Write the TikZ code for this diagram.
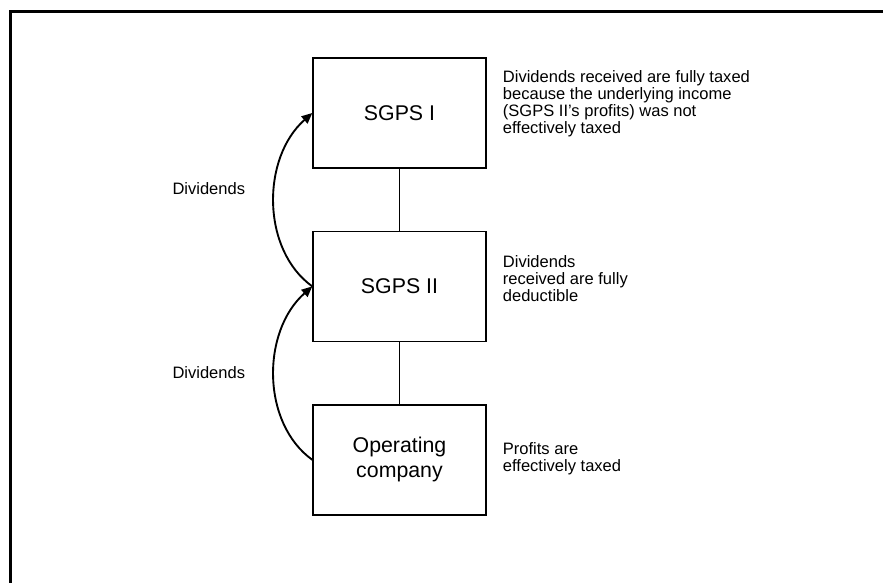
\documentclass[tikz,border=0pt]{standalone}
\usepackage{fontspec}
\setmainfont{Liberation Sans}
\usetikzlibrary{arrows.meta,positioning}

\begin{document}
\begin{tikzpicture}[
  font=\fontsize{14.1pt}{14.25pt}\selectfont,
  ent/.style={draw, line width=1.2pt, minimum width=5.19cm, minimum height=3.3cm,
              align=center, font=\fontsize{18.2pt}{21.3pt}\selectfont},
  note/.style={inner sep=0pt, align=left},
  lnk/.style={line width=1.1pt},
  div/.style={-{Triangle[length=3.2mm, width=2.8mm]}, line width=1.6pt}
]
\useasboundingbox (0,0) rectangle (26.49,17.49);

% Rahmen
\draw[line width=2.8pt] (0.315,0) -- (0.315,17.145) -- (26.49,17.145);

% Gesellschaften
\node[ent] (sgps1) at (11.985,14.1) {SGPS I};
\node[ent, below=1.86cm of sgps1] (sgps2) {SGPS II};
\node[ent, below=1.86cm of sgps2] (opco) {Operating\\company};

\draw[lnk] (sgps1) -- (sgps2);
\draw[lnk] (sgps2) -- (opco);

% Dividendenfluss
\draw[div] (opco.west) .. controls +(-1.53,1.1) and +(-1.53,-1.35) .. (sgps2.west);
\draw[div] (sgps2.west) .. controls +(-1.53,1.1) and +(-1.53,-1.35) .. (sgps1.west);

\node[note, left=2.01cm of sgps1.south west, yshift=-0.6cm] (div1) {Dividends};
\node[note, left=2.01cm of sgps2.south west, yshift=-0.9cm] (div2) {Dividends};

% Steuerliche Behandlung
\node[note, below right=0.405cm and 0.48cm of sgps1.north east] (tax1)
  {Dividends received are fully taxed\\because the underlying income\\(SGPS II's profits) was not\\effectively taxed};
\node[note, below right=0.75cm and 0.48cm of sgps2.north east] (tax2)
  {Dividends\\received are fully\\deductible};
\node[note, below right=1.155cm and 0.48cm of opco.north east] (tax3)
  {Profits are\\effectively taxed};

\end{tikzpicture}
\end{document}
